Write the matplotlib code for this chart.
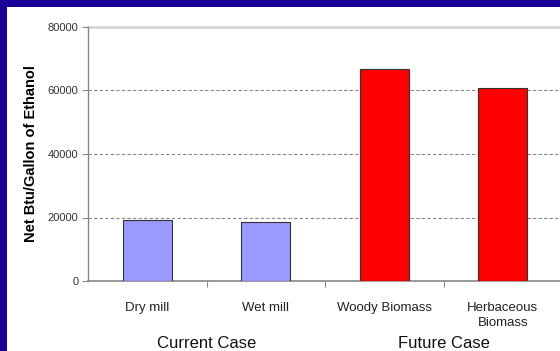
import matplotlib.pyplot as plt
from matplotlib.patches import Rectangle
from matplotlib.ticker import FixedLocator

plt.rcParams['font.family'] = ['Liberation Sans', 'DejaVu Sans']

categories = ["Dry mill", "Wet mill", "Woody Biomass", "Herbaceous\nBiomass"]
values = [19200, 18500, 66800, 60700]
bar_colors = ["#9999ff", "#9999ff", "#ff0000", "#ff0000"]
groups = ["Current Case", "Future Case"]
group_pos = [0.5, 2.5]
yticks = [0, 20000, 40000, 60000, 80000]

fig = plt.figure(figsize=(5.6, 3.51), dpi=100)
fig.patch.set_facecolor("#1a0099")
# white slide area, behind the axes
fig.patches.append(Rectangle((7 / 560, 0), 1, 1 - 7 / 351, transform=fig.transFigure,
                             facecolor="white", edgecolor="none", zorder=-10))

ax = fig.add_axes([88 / 560, 1 - 281 / 351, 474 / 560, 254 / 351])
ax.set_facecolor("none")
ax.set_zorder(1)

x = range(len(categories))
ax.bar(x, values, width=0.41, color=bar_colors, edgecolor="#333333", linewidth=0.8, zorder=3)

ax.set_xlim(-0.5, 3.5)
ax.set_ylim(0, 80000)
ax.set_yticks(yticks)
ax.set_yticklabels([str(t) for t in yticks], fontsize=8, color="#333333")
ax.tick_params(axis='y', length=4, width=0.8, color="#888888", pad=3)

ax.set_xticks(list(x))
ax.set_xticklabels(categories, fontsize=9.5, color="#222222", linespacing=1.3)
ax.tick_params(axis='x', which='major', length=0, pad=15)
ax.xaxis.set_minor_locator(FixedLocator([0.5, 1.5, 2.5]))
ax.tick_params(axis='x', which='minor', length=4, width=0.8, color="#888888")

for t in [20000, 40000, 60000]:
    ax.axhline(t, color="#888888", linestyle=(0, (3, 2)), linewidth=0.8, zorder=1)
ax.axhline(80000, color="#d4d4d4", linewidth=2, zorder=1, clip_on=False)

for s in ["top", "right"]:
    ax.spines[s].set_visible(False)
ax.spines["left"].set_color("#888888")
ax.spines["bottom"].set_color("#888888")
ax.spines["left"].set_linewidth(1)
ax.spines["bottom"].set_linewidth(1.2)

ax.set_ylabel("Net Btu/Gallon of Ethanol", fontsize=10.5, fontweight='bold')
ax.yaxis.set_label_coords(-0.105, 0.5)

for g, p in zip(groups, group_pos):
    ax.text(p, -0.245, g, transform=ax.get_xaxis_transform(), ha='center', va='center',
            fontsize=12, color="#111111")

fig.savefig("out.png", dpi=100, facecolor=fig.get_facecolor())
